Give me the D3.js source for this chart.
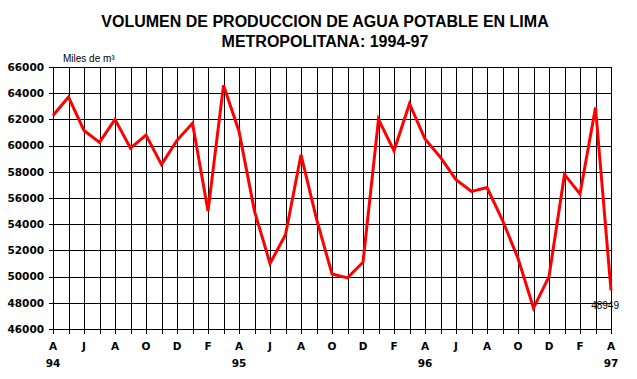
<!DOCTYPE html>
<html>
<head>
<meta charset="utf-8">
<script src="https://cdn.jsdelivr.net/npm/d3@7"></script>
<style>
  html, body { margin: 0; padding: 0; background: #fff; }
  svg { display: block; }
</style>
</head>
<body>
<svg id="chart" width="637" height="379"></svg>
<script>
// ---- data (April 1994 – April 1997, thousands of m³) ----
const months = [
  "Abr-94","May-94","Jun-94","Jul-94","Ago-94","Sep-94","Oct-94","Nov-94","Dic-94",
  "Ene-95","Feb-95","Mar-95","Abr-95","May-95","Jun-95","Jul-95","Ago-95","Sep-95",
  "Oct-95","Nov-95","Dic-95","Ene-96","Feb-96","Mar-96","Abr-96","May-96","Jun-96",
  "Jul-96","Ago-96","Sep-96","Oct-96","Nov-96","Dic-96","Ene-97","Feb-97","Mar-97","Abr-97"
];
const volumen = [
  62300, 63700, 61150, 60250, 62000, 59800, 60800, 58550, 60400,
  61700, 55000, 64600, 61100, 55000, 51000, 53200, 59300, 54400,
  50200, 49900, 51100, 62000, 59600, 63200, 60500, 59100, 57400,
  56500, 56800, 54300, 51400, 47600, 50000, 57800, 56300, 62900, 48949
];
const monthLetters = ["A","J","A","O","D","F","A","J","A","O","D","F","A","J","A","O","D","F","A"];
const yearLabels = ["94","95","96","97"];
const yTicks = [46000,48000,50000,52000,54000,56000,58000,60000,62000,64000,66000];
const titleLines = ["VOLUMEN DE PRODUCCION DE AGUA POTABLE EN LIMA", "METROPOLITANA: 1994-97"];
const unitLabel = "Miles de m³";
const lastLabel = "48949";

// ---- layout ----
const svg = d3.select("#chart");
const mLeft = 53, mRight = 611, mTop = 67, mBottom = 329;

const x = d3.scalePoint().domain(months).range([mLeft, mRight]);
const y = d3.scaleLinear().domain([46000, 66000]).range([mBottom, mTop]);

// title
svg.append("g").selectAll("text").data(titleLines).join("text")
  .attr("x", 325)
  .attr("y", (d, i) => 27 + i * 20)
  .attr("text-anchor", "middle")
  .style("font-family", "'Liberation Sans', Arial, sans-serif")
  .style("font-weight", "bold")
  .style("font-size", "16px")
  .text(d => d);

// unit label
svg.append("text")
  .attr("x", 63).attr("y", 62)
  .style("font-family", "'Liberation Sans', Arial, sans-serif")
  .style("font-size", "10px")
  .text(unitLabel);

// horizontal grid + y axis
const yAxis = d3.axisLeft(y).tickValues(yTicks).tickSize(-(mRight - mLeft)).tickSizeOuter(0)
  .tickFormat(d3.format("d"));
const gy = svg.append("g").attr("transform", `translate(${mLeft},0)`).call(yAxis);
gy.select(".domain").remove();
gy.selectAll(".tick line").attr("x1", -4).attr("x2", mRight - mLeft)
  .attr("stroke", "#000").attr("stroke-width", 1).attr("shape-rendering", "crispEdges");
gy.selectAll(".tick text").attr("x", -9)
  .style("font-family", "'DejaVu Sans', Verdana, sans-serif")
  .style("font-weight", "bold").style("font-size", "10.5px").attr("fill", "#000");

// vertical grid + x axis
const xAxis = d3.axisBottom(x).tickSize(0).tickFormat("");
const gx = svg.append("g").attr("transform", `translate(0,${mBottom})`).call(xAxis);
gx.select(".domain").remove();
gx.selectAll(".tick line").attr("y1", -(mBottom - mTop)).attr("y2", 5)
  .attr("stroke", "#000").attr("stroke-width", 1).attr("shape-rendering", "crispEdges");

// month letters every two months
const letterMonths = months.filter((m, i) => i % 2 === 0);
svg.append("g").selectAll("text").data(letterMonths).join("text")
  .attr("x", d => x(d))
  .attr("y", 350)
  .attr("text-anchor", "middle")
  .style("font-family", "'DejaVu Sans', Verdana, sans-serif")
  .style("font-weight", "bold").style("font-size", "10.5px")
  .text((d, i) => monthLetters[i]);

// year labels every twelve months
const yearMonths = months.filter((m, i) => i % 12 === 0);
svg.append("g").selectAll("text").data(yearMonths).join("text")
  .attr("x", d => x(d))
  .attr("y", 367)
  .attr("text-anchor", "middle")
  .style("font-family", "'DejaVu Sans', Verdana, sans-serif")
  .style("font-weight", "bold").style("font-size", "10.5px")
  .text((d, i) => yearLabels[i]);

// the series line
const line = d3.line().x((d, i) => x(months[i])).y(d => y(d));
svg.append("path").datum(volumen)
  .attr("d", line)
  .attr("fill", "none")
  .attr("stroke", "#ff0000")
  .attr("stroke-width", 3)
  .attr("stroke-linejoin", "miter");

// last value label
svg.append("text")
  .attr("x", x(months[months.length - 1]) + 8)
  .attr("y", y(volumen[volumen.length - 1]) + 19)
  .attr("text-anchor", "end")
  .style("font-family", "'Liberation Sans', Arial, sans-serif")
  .style("font-size", "10px")
  .text(lastLabel);
</script>
</body>
</html>
